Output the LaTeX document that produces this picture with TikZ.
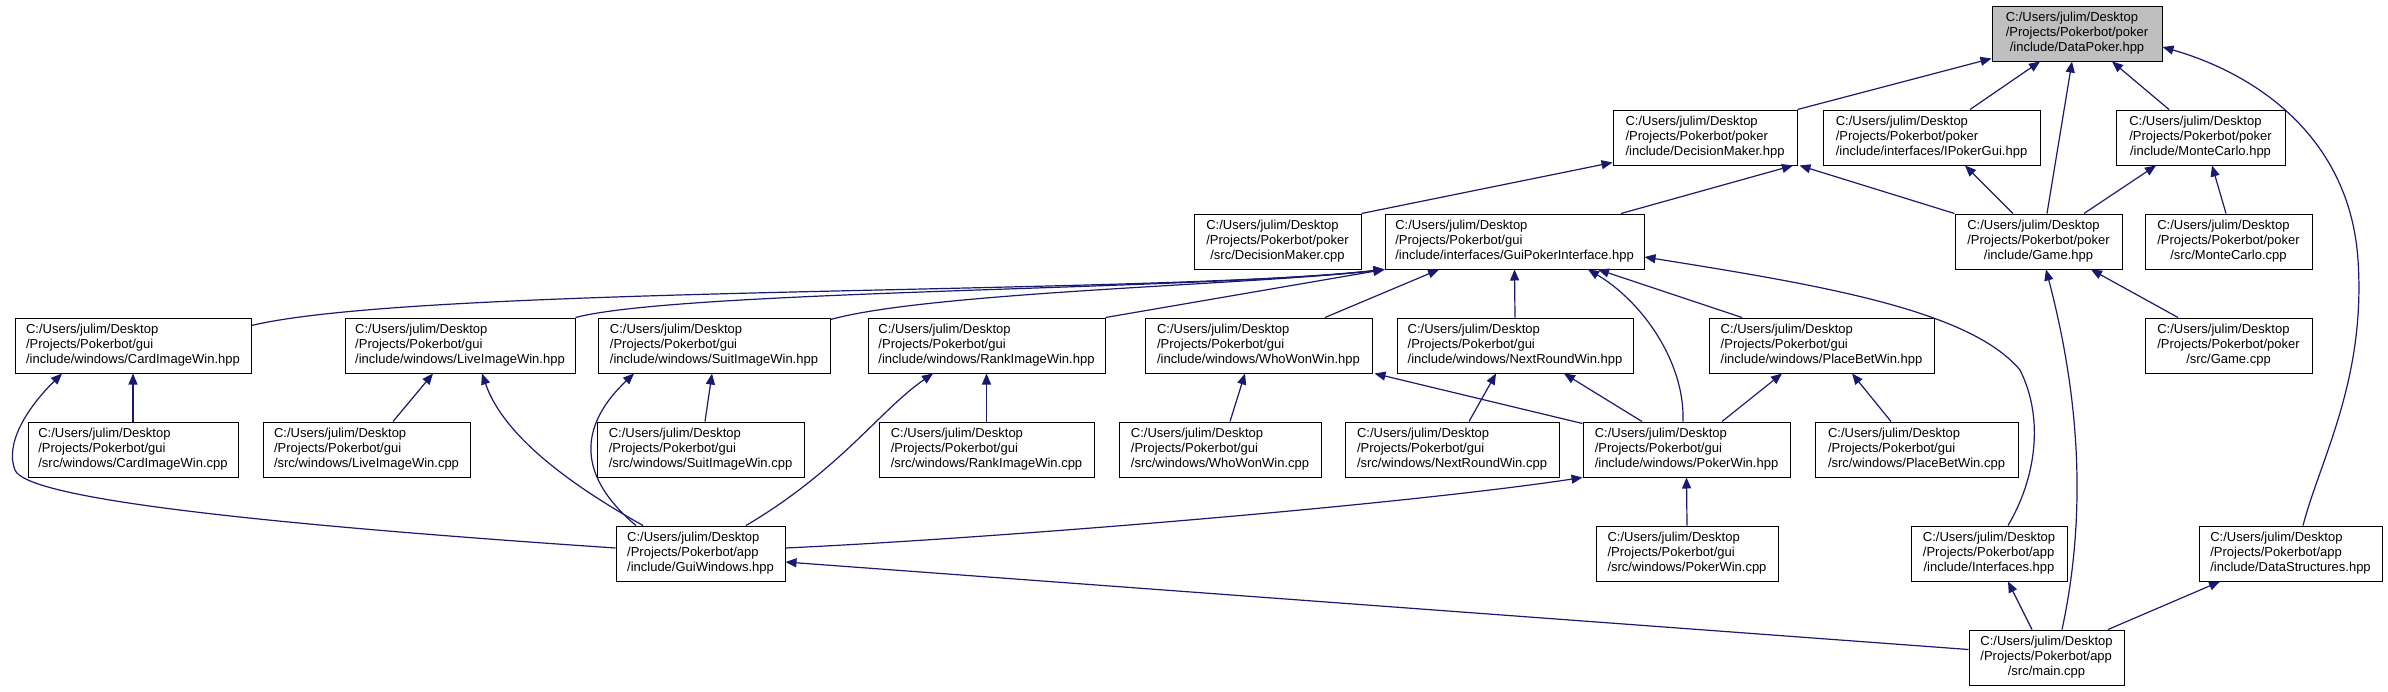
\documentclass[tikz,border=0pt]{standalone}
\usepackage{fontspec}
\setmainfont{Liberation Sans}
\usetikzlibrary{arrows.meta}
\definecolor{edgeblue}{HTML}{191970}
\definecolor{focusgray}{HTML}{BFBFBF}
\newcommand{\incpath}[2]{\begin{tabular}{@{}l@{}}C:/Users/julim/Desktop\\/Projects/Pokerbot/#1\\\multicolumn{1}{@{}c@{}}{#2}\end{tabular}}

\begin{document}
\begin{tikzpicture}[x=1pt, y=-1pt,
  file/.style={draw=black, fill=white, line width=1pt, minimum height=55pt,
               inner sep=0pt, font=\fontsize{13}{14.7}\selectfont},
  focus/.style={file, fill=focusgray},
  edge/.style={draw=edgeblue, line width=1.2pt, {Triangle[length=11pt,width=9pt]}-},
]
\useasboundingbox (0,0) rectangle (2388,691);

\node[focus, minimum width=170pt] (datapoker) at (2077,33.5) {\incpath{poker}{/include/DataPoker.hpp}};

\node[file, minimum width=184pt] (dmhpp) at (1705,137.5) {\incpath{poker}{/include/DecisionMaker.hpp}};
\node[file, minimum width=217pt] (ipokergui) at (1931.5,137.5) {\incpath{poker}{/include/interfaces/IPokerGui.hpp}};
\node[file, minimum width=169pt] (mchpp) at (2200.5,137.5) {\incpath{poker}{/include/MonteCarlo.hpp}};

\node[file, minimum width=167pt] (dmcpp) at (1277.5,241.5) {\incpath{poker}{/src/DecisionMaker.cpp}};
\node[file, minimum width=259pt] (guipoker) at (1514.5,241.5) {\incpath{gui}{/include/interfaces/GuiPokerInterface.hpp}};
\node[file, minimum width=167pt] (gamehpp) at (2038.5,241.5) {\incpath{poker}{/include/Game.hpp}};
\node[file, minimum width=167pt] (mccpp) at (2228.5,241.5) {\incpath{poker}{/src/MonteCarlo.cpp}};

\node[file, minimum width=236pt] (cardhpp) at (133,345.5) {\incpath{gui}{/include/windows/CardImageWin.hpp}};
\node[file, minimum width=230pt] (livehpp) at (460,345.5) {\incpath{gui}{/include/windows/LiveImageWin.hpp}};
\node[file, minimum width=232pt] (suithpp) at (714,345.5) {\incpath{gui}{/include/windows/SuitImageWin.hpp}};
\node[file, minimum width=237pt] (rankhpp) at (986.5,345.5) {\incpath{gui}{/include/windows/RankImageWin.hpp}};
\node[file, minimum width=227pt] (whowonhpp) at (1258.5,345.5) {\incpath{gui}{/include/windows/WhoWonWin.hpp}};
\node[file, minimum width=236pt] (nextroundhpp) at (1515,345.5) {\incpath{gui}{/include/windows/NextRoundWin.hpp}};
\node[file, minimum width=225pt] (placebethpp) at (1821.5,345.5) {\incpath{gui}{/include/windows/PlaceBetWin.hpp}};
\node[file, minimum width=167pt] (gamecpp) at (2228.5,345.5) {\incpath{poker}{/src/Game.cpp}};

\node[file, minimum width=210pt] (cardcpp) at (133,449.5) {\incpath{gui}{/src/windows/CardImageWin.cpp}};
\node[file, minimum width=207pt] (livecpp) at (366.5,449.5) {\incpath{gui}{/src/windows/LiveImageWin.cpp}};
\node[file, minimum width=207pt] (suitcpp) at (700.5,449.5) {\incpath{gui}{/src/windows/SuitImageWin.cpp}};
\node[file, minimum width=215pt] (rankcpp) at (986.5,449.5) {\incpath{gui}{/src/windows/RankImageWin.cpp}};
\node[file, minimum width=202pt] (whowoncpp) at (1220,449.5) {\incpath{gui}{/src/windows/WhoWonWin.cpp}};
\node[file, minimum width=214pt] (nextroundcpp) at (1452,449.5) {\incpath{gui}{/src/windows/NextRoundWin.cpp}};
\node[file, minimum width=207pt] (pokerwinhpp) at (1686.5,449.5) {\incpath{gui}{/include/windows/PokerWin.hpp}};
\node[file, minimum width=203pt] (placebetcpp) at (1916.5,449.5) {\incpath{gui}{/src/windows/PlaceBetWin.cpp}};

\node[file, minimum width=169pt] (guiwin) at (700.5,553.5) {\incpath{app}{/include/GuiWindows.hpp}};
\node[file, minimum width=182pt] (pokerwincpp) at (1687,553.5) {\incpath{gui}{/src/windows/PokerWin.cpp}};
\node[file, minimum width=156pt] (interfaces) at (1989,553.5) {\incpath{app}{/include/Interfaces.hpp}};
\node[file, minimum width=183pt] (datastruct) at (2290.5,553.5) {\incpath{app}{/include/DataStructures.hpp}};

\node[file, minimum width=155pt] (maincpp) at (2046.5,657.5) {\incpath{app}{/src/main.cpp}};

\draw[edge] ([yshift=3pt]datapoker.south west) -- (dmhpp.north east);
\draw[edge] ([xshift=-37pt]datapoker.south) -- ([xshift=38.5pt]ipokergui.north);
\draw[edge] ([xshift=-5pt]datapoker.south) -- ([xshift=8.5pt]gamehpp.north);
\draw[edge] ([xshift=35pt]datapoker.south) -- ([xshift=-31.5pt]mchpp.north);
\draw[edge] ([yshift=-13.5pt]datapoker.east) .. controls (2260,75) and (2350,140) .. (2358,260)
  .. controls (2366,380) and (2320,460) .. ([xshift=12.5pt]datastruct.north);

\draw[edge] ([yshift=3pt]dmhpp.south west) -- (dmcpp.north east);
\draw[edge] ([xshift=88pt]dmhpp.south) -- ([xshift=106.5pt]guipoker.north);
\draw[edge] ([xshift=2pt]dmhpp.south east) -- (gamehpp.north west);
\draw[edge] ([xshift=33.5pt]ipokergui.south) -- ([xshift=-25.5pt]gamehpp.north);
\draw[edge] ([xshift=-44.5pt]mchpp.south) -- ([xshift=45.5pt]gamehpp.north);
\draw[edge] ([xshift=11.5pt]mchpp.south) -- ([xshift=-2.5pt]mccpp.north);
\draw[edge] ([xshift=52.5pt]gamehpp.south) -- ([xshift=-50.5pt]gamecpp.north);
\draw[edge] ([xshift=7.5pt]gamehpp.south) .. controls (2075,380) and (2090,500) .. ([xshift=15.5pt]maincpp.north);

\draw[edge] (guipoker.south west) .. controls (1150,295) and (420,285) .. ([yshift=-8pt]cardhpp.north east);
\draw[edge] (guipoker.south west) .. controls (1200,290) and (680,290) .. (livehpp.north east);
\draw[edge] (guipoker.south west) .. controls (1250,285) and (930,292) .. ([yshift=-2pt]suithpp.north east);
\draw[edge] (guipoker.south west) -- (rankhpp.north east);
\draw[edge] ([xshift=-75.5pt]guipoker.south) -- ([xshift=66.5pt]whowonhpp.north);
\draw[edge] (guipoker.south) -- (nextroundhpp.north);
\draw[edge] ([xshift=73.5pt]guipoker.south) .. controls (1640,300) and (1685,360) .. ([xshift=-3.5pt]pokerwinhpp.north);
\draw[edge] ([xshift=83.5pt]guipoker.south) -- ([xshift=-79.5pt]placebethpp.north);
\draw[edge] ([yshift=-15.5pt]guipoker.east) .. controls (1820,285) and (1970,310) .. (2020,370)
  .. controls (2045,420) and (2035,480) .. ([xshift=19pt]interfaces.north);

\draw[edge] (cardhpp.south) -- (cardcpp.north);
\draw[edge] ([xshift=-71pt]cardhpp.south) .. controls (25,410) and (5,445) .. (15,470)
  .. controls (25,495) and (200,520) .. ([yshift=5.5pt]guiwin.west);
\draw[edge] ([xshift=-27pt]livehpp.south) -- ([xshift=26.5pt]livecpp.north);
\draw[edge] ([xshift=22pt]livehpp.south) .. controls (505,440) and (580,490) .. ([xshift=-57.5pt]guiwin.north);
\draw[edge] ([xshift=-2pt]suithpp.south) -- ([xshift=4.5pt]suitcpp.north);
\draw[edge] ([xshift=-80pt]suithpp.south) .. controls (585,420) and (570,470) .. ([xshift=-64.5pt]guiwin.north);
\draw[edge] (rankhpp.south) -- (rankcpp.north);
\draw[edge] ([xshift=-53.5pt]rankhpp.south) .. controls (880,410) and (840,470) .. ([xshift=45.5pt]guiwin.north);
\draw[edge] ([xshift=-13.5pt]whowonhpp.south) -- ([xshift=10pt]whowoncpp.north);
\draw[edge] ([xshift=2pt]whowonhpp.south east) -- ([yshift=-2pt]pokerwinhpp.north west);
\draw[edge] ([xshift=-19pt]nextroundhpp.south) -- ([xshift=17pt]nextroundcpp.north);
\draw[edge] ([xshift=49pt]nextroundhpp.south) -- ([xshift=-44.5pt]pokerwinhpp.north);
\draw[edge] ([xshift=30.5pt]placebethpp.south) -- ([xshift=-25.5pt]placebetcpp.north);
\draw[edge] ([xshift=-39.5pt]placebethpp.south) -- ([xshift=35.5pt]pokerwinhpp.north);
\draw[edge] (pokerwinhpp.south) -- (pokerwincpp.north);
\draw[edge] (pokerwinhpp.south west) .. controls (1400,505) and (1000,538) .. ([yshift=5.5pt]guiwin.east);

\draw[edge] ([yshift=-8.5pt]guiwin.east) -- ([yshift=8pt]maincpp.west);
\draw[edge] ([xshift=19pt]interfaces.south) -- ([xshift=-14.5pt]maincpp.north);
\draw[edge] ([xshift=-70.5pt]datastruct.south) -- ([xshift=61.5pt]maincpp.north);

\end{tikzpicture}
\end{document}
